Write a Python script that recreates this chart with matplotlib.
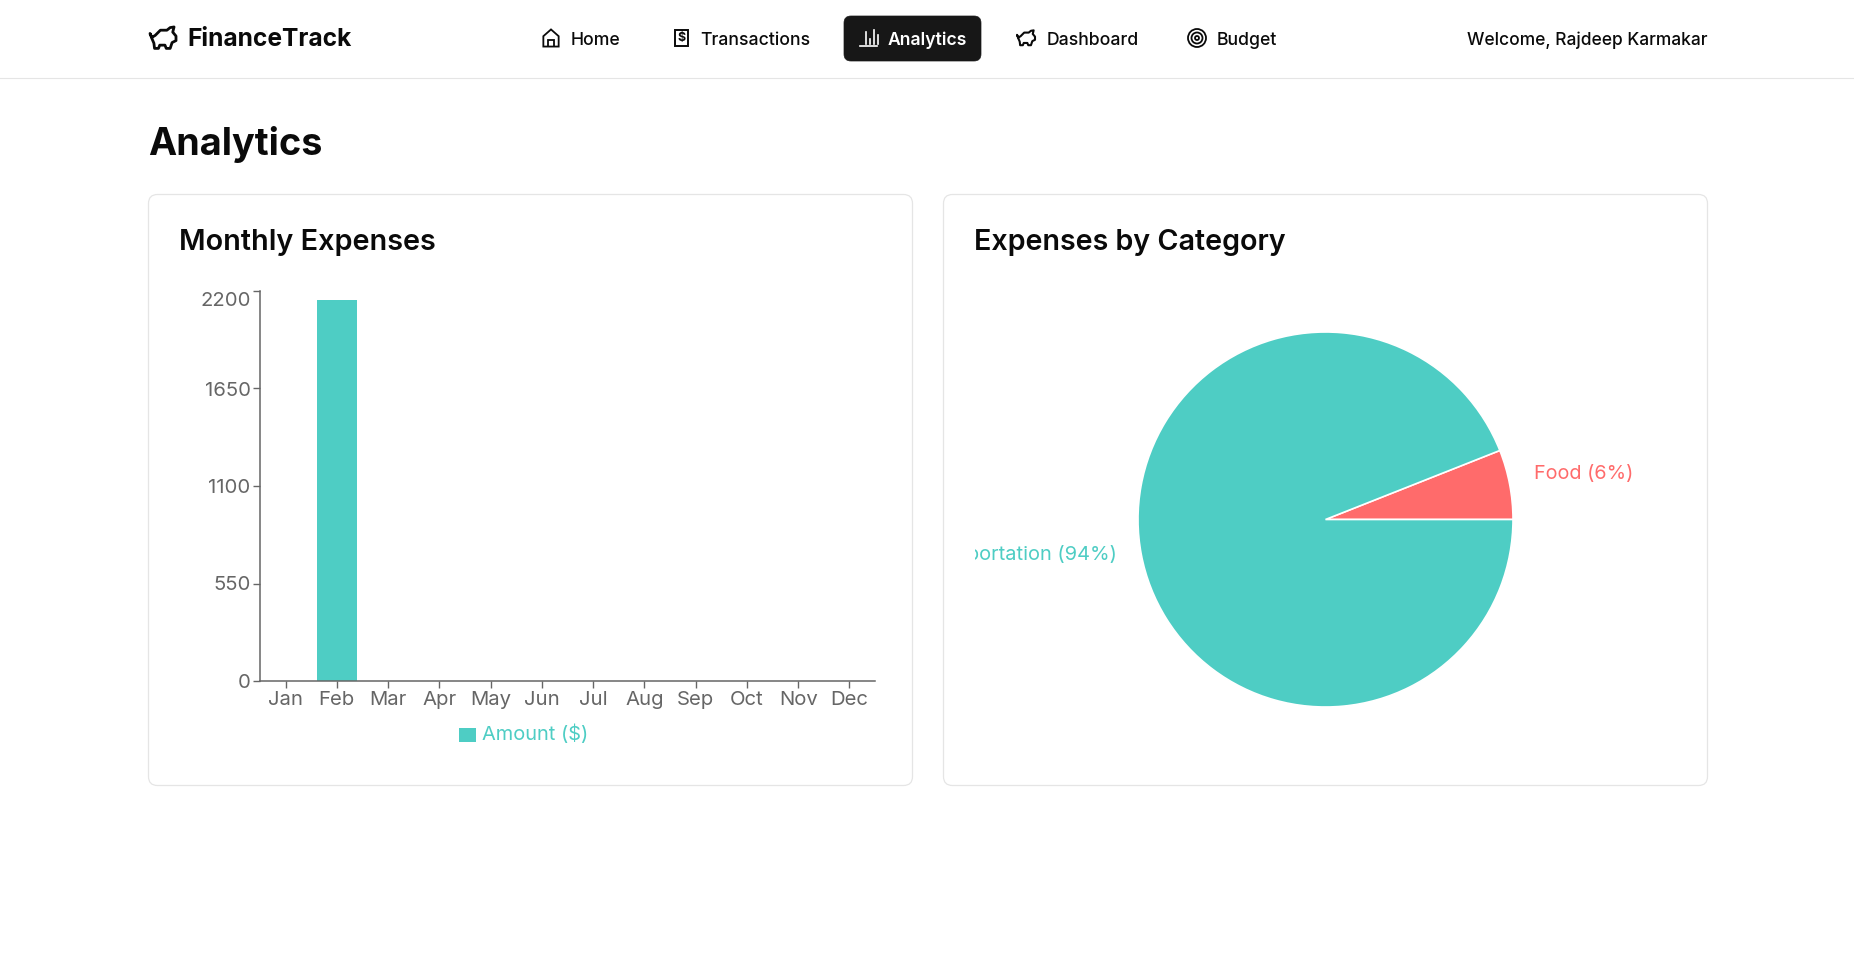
import matplotlib
matplotlib.use("Agg")
import matplotlib.pyplot as plt
from matplotlib.patches import FancyBboxPatch, Rectangle, Circle, Polygon
from matplotlib.transforms import ScaledTranslation

plt.rcParams['font.family'] = ['Inter', 'DejaVu Sans']

months = ["Jan","Feb","Mar","Apr","May","Jun","Jul","Aug","Sep","Oct","Nov","Dec"]
amounts = [0,2150,0,0,0,0,0,0,0,0,0,0]
y_ticks = [0,550,1100,1650,2200]
pie_labels = ["Food (6%)","Transportation (94%)"]
pie_values = [6,94]
nav_items = ["Home","Transactions","Analytics","Dashboard","Budget"]
TEAL="#4ECDC4"; RED="#FF6B6B"; GREY="#666666"; INK="#0a0a0a"; BORDER="#e5e5e5"
W,H=1854,977
fig=plt.figure(figsize=(W/100,H/100),dpi=100,facecolor="white")
bg=fig.add_axes([0,0,1,1]); bg.set_xlim(0,W); bg.set_ylim(H,0); bg.axis("off")
PX=0.72
def T(x,y,s,size,color=INK,weight="normal",ha="left",va="center"):
    return bg.text(x,y,s,fontsize=size*PX,color=color,fontweight=weight,ha=ha,va=va)

bg.plot([0,W],[78,78],color=BORDER,lw=0.8)
T(187.5,39.5,"FinanceTrack",24.6,weight="bold")
def piggy(cx,cy,s,color=INK,lw=1.5):
    p=[(-1,-.35),(-.85,-.05),(-.6,-.2),(-.2,-.6),(.3,-.6),(.55,-.8),(.85,-.85),(.75,-.45),(1,-.15),(1,.2),(.7,.35),(.55,.8),(.25,.8),(.15,.55),(-.25,.55),(-.35,.8),(-.65,.8),(-.7,.4),(-.85,.05)]
    bg.add_patch(Polygon([(cx+a*s,cy+b*s) for a,b in p],closed=True,fill=False,ec=color,lw=lw,joinstyle="round"))
piggy(163,38,13,lw=2)
def home(cx,cy,s,color=INK):
    p=[(-.85,.95),(-.85,-.2),(0,-.95),(.85,-.2),(.85,.95)]
    bg.add_patch(Polygon([(cx+a*s,cy+b*s) for a,b in p],closed=True,fill=False,ec=color,lw=1.3))
    bg.add_patch(Polygon([(cx-.3*s,cy+.95*s),(cx-.3*s,cy+.25*s),(cx+.3*s,cy+.25*s),(cx+.3*s,cy+.95*s)],closed=False,fill=False,ec=color,lw=1.3))
home(551,38,9)
bg.add_patch(Rectangle((675,30),13,16,fill=False,ec=INK,lw=1.4))
bg.text(681.5,38,"$",fontsize=9,ha="center",va="center",color=INK,fontweight="bold")
bg.add_patch(FancyBboxPatch((844,16),137,45,boxstyle="round,pad=0,rounding_size=7",fc="#171717",ec="#171717",lw=0.5))
for x0,h in [(866,12),(870,5),(874,14),(878,9)]:
    bg.plot([x0,x0],[44-h,44],color="white",lw=1.2)
bg.plot([860,877],[46,46],color="white",lw=1.2)
piggy(1026,38,9)
for r in (9,5.5,2):
    bg.add_patch(Circle((1197,38),r,fill=False,ec=INK,lw=1.3))
for x,s,c,w in zip([571,700.5,888,1046.5,1217],nav_items,[INK,INK,"white",INK,INK],["medium","medium","semibold","medium","medium"]):
    T(x,45,s,17.6,color=c,weight=w,va="baseline")
T(1708,45,"Welcome, Rajdeep Karmakar",17.4,ha="right",weight="medium",va="baseline")
T(148,144.5,"Analytics",37.8,weight="bold")

for x0 in (148.5,943.5):
    bg.add_patch(FancyBboxPatch((x0,194.5),764,591,boxstyle="round,pad=0,rounding_size=9",fc="white",ec=BORDER,lw=0.9))
T(179,242.5,"Monthly Expenses",28.8,weight="semibold")
T(974,242.5,"Expenses by Category",28.7,weight="semibold")

# bar chart
L,R,TOP,BOT=260,875,291,681
ax=fig.add_axes([L/W,1-BOT/H,(R-L)/W,(BOT-TOP)/H],facecolor="none")
ax.bar(range(12),amounts,width=40/51.25,color=TEAL)
ax.set_xlim(-.5,11.5); ax.set_ylim(0,2200)
for s in ("top","right"): ax.spines[s].set_visible(False)
for s in ("left","bottom"):
    ax.spines[s].set_color(GREY); ax.spines[s].set_linewidth(1.1)
ax.set_xticks(range(12),months)
ax.set_yticks(y_ticks,[str(v) for v in y_ticks])
ax.tick_params(axis="x",length=7*.72,width=1,color=GREY,labelcolor=GREY,labelsize=20.3*PX,pad=2)
ax.tick_params(axis="y",length=7*.72,width=1,color=GREY,labelcolor=GREY,labelsize=20.3*PX,pad=1.8)
top_label=ax.get_yticklabels()[-1]
top_label.set_verticalalignment("top")
top_label.set_transform(top_label.get_transform()+ScaledTranslation(0,-1.2/100,fig.dpi_scale_trans))
bg.add_patch(Rectangle((459,728),17.5,14,fc=TEAL,ec="none"))
T(482,734.5,"Amount ($)",20,color=TEAL)

# pie
cx,cy,r=1325.5,519.5,187.5
pa=fig.add_axes([(cx-r)/W,1-(cy+r)/H,2*r/W,2*r/H],facecolor="none")
pa.pie(pie_values,colors=[RED,TEAL],radius=1,startangle=0,counterclock=True,wedgeprops=dict(edgecolor="white",linewidth=1.2))
pa.set_xlim(-1,1); pa.set_ylim(-1,1)
T(1534,474,pie_labels[0],19.8,color=RED)
t=T(1117,554,pie_labels[1],20,color=TEAL,ha="right")
t.set_clip_path(Rectangle((975,520),300,70,transform=bg.transData))
t.set_clip_on(True)
fig.savefig("out.png",dpi=100,facecolor="white")
